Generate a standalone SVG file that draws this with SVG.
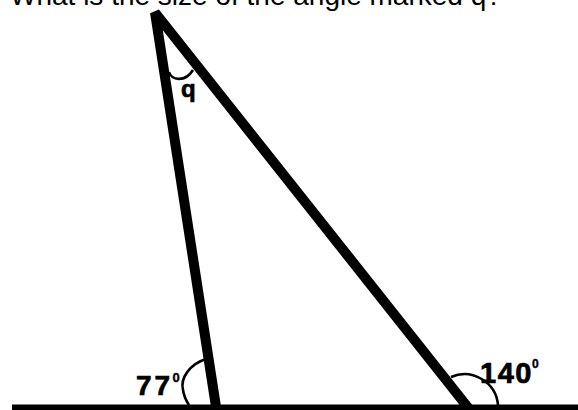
<svg xmlns="http://www.w3.org/2000/svg" width="578" height="410" viewBox="0 0 578 410">
<style>
.t{font-family:"Liberation Sans",Arial,sans-serif;fill:#000}
.lbl{font-weight:bold;stroke:#000;stroke-width:0.7}
.arc{fill:none;stroke:#000;stroke-width:2.6}
</style>
<rect width="578" height="410" fill="#fff"/>
<text class="t" x="10" y="4.5" font-size="28">What is the size of the angle marked q?</text>
<g id="connectors">
<path id="sides" d="M216.5,410 L155,12.5 L470,410" fill="none" stroke="#000" stroke-width="10" stroke-linejoin="bevel"/>
<rect id="base" x="12" y="404.5" width="566" height="6" fill="#000"/>
</g>
<g id="angle-q">
<path class="arc" d="M169,72 C171,80 185,83 193,70"/>
<text class="t lbl" x="181" y="97" font-size="24">q</text>
</g>
<g id="angle-77">
<path class="arc" d="M206,359 C190,364 180,378 183,390 C184,397 187,402 189,405"/>
<text class="t lbl" x="136" y="395" font-size="28" letter-spacing="3">77<tspan x="172.5" y="382" font-size="13" letter-spacing="0" stroke-width="0.4">0</tspan></text>
</g>
<g id="angle-140">
<path class="arc" d="M451,377 C472,368 496,382 498,405"/>
<text class="t lbl" x="480" y="383" font-size="29" letter-spacing="1.5">140<tspan x="532" y="368" font-size="12" letter-spacing="0" stroke-width="0.4">0</tspan></text>
</g>
</svg>
